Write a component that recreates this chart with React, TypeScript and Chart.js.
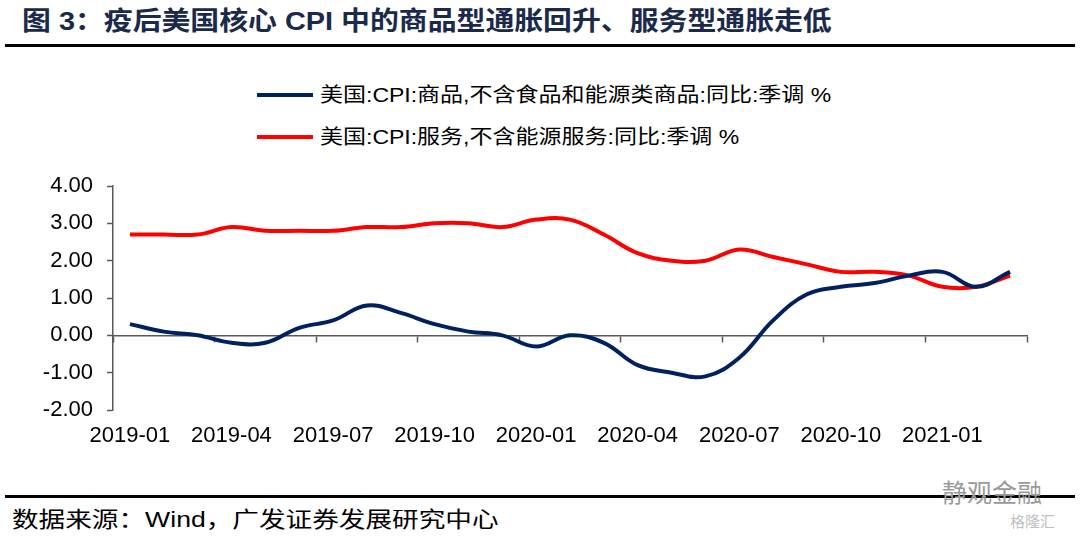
import React, { useEffect, useRef } from "react";
import { Chart, registerables } from "chart.js";

Chart.register(...registerables);

const months: string[] = [
  "2019-01", "2019-02", "2019-03", "2019-04", "2019-05", "2019-06",
  "2019-07", "2019-08", "2019-09", "2019-10", "2019-11", "2019-12",
  "2020-01", "2020-02", "2020-03", "2020-04", "2020-05", "2020-06",
  "2020-07", "2020-08", "2020-09", "2020-10", "2020-11", "2020-12",
  "2021-01", "2021-02", "2021-03",
];

const goodsCore: number[] = [
  0.3, 0.1, 0.0, -0.2, -0.2, 0.2,
  0.4, 0.8, 0.6, 0.3, 0.1, 0.0,
  -0.3, 0.0, -0.2, -0.8, -1.0, -1.1,
  -0.6, 0.4, 1.1, 1.3, 1.4, 1.6,
  1.7, 1.3, 1.7,
];

const servicesCore: number[] = [
  2.7, 2.7, 2.7, 2.9, 2.8, 2.8,
  2.8, 2.9, 2.9, 3.0, 3.0, 2.9,
  3.1, 3.1, 2.7, 2.2, 2.0, 2.0,
  2.3, 2.1, 1.9, 1.7, 1.7, 1.6,
  1.3, 1.3, 1.6,
];

const seriesNames: string[] = [
  "美国:CPI:商品,不含食品和能源类商品:同比:季调 %",
  "美国:CPI:服务,不含能源服务:同比:季调 %",
];
const seriesColors: string[] = ["#002060", "#FF0000"];

const yMin = -2;
const yMax = 4;
const yStep = 1;
const labelEvery = 3;

const titleText = "图 3：疫后美国核心 CPI 中的商品型通胀回升、服务型通胀走低";
const sourceText = "数据来源：Wind，广发证券发展研究中心";

const FONT = '"Liberation Sans", Arial, "Noto Sans CJK SC", sans-serif';
const AXIS_COLOR = "#595959";

function ChartCanvas() {
  const ref = useRef<HTMLCanvasElement | null>(null);
  useEffect(() => {
    if (!ref.current) return;
    const chart = new Chart(ref.current, {
      type: "line",
      data: {
        labels: months,
        datasets: [
          {
            label: seriesNames[0],
            data: goodsCore,
            borderColor: seriesColors[0],
            backgroundColor: seriesColors[0],
            borderWidth: 4,
            pointRadius: 0,
            tension: 0.4,
            xAxisID: "x",
            yAxisID: "y",
          },
          {
            label: seriesNames[1],
            data: servicesCore,
            borderColor: seriesColors[1],
            backgroundColor: seriesColors[1],
            borderWidth: 4,
            pointRadius: 0,
            tension: 0.4,
            xAxisID: "x",
            yAxisID: "y",
          },
        ],
      },
      options: {
        animation: false,
        responsive: true,
        maintainAspectRatio: false,
        layout: { padding: { top: 21, right: 53, left: 0, bottom: 0 } },
        plugins: {
          legend: { display: false },
          tooltip: { enabled: false },
        },
        scales: {
          x: {
            type: "category",
            position: "bottom",
            offset: true,
            grid: { display: false, drawTicks: false },
            border: { display: false },
            ticks: {
              autoSkip: false,
              maxRotation: 0,
              minRotation: 0,
              padding: 13,
              color: "#000",
              font: { family: FONT, size: 22 },
              callback: (_v: any, i: number) => (i % labelEvery === 0 ? months[i] : ""),
            },
            afterFit: (s: any) => {
              s.height = 50;
              s.paddingLeft = 0;
              s.paddingRight = 0;
            },
          },
          x2: {
            type: "category",
            axis: "x",
            position: { y: 0 },
            offset: true,
            grid: {
              display: true,
              offset: true,
              drawOnChartArea: false,
              drawTicks: true,
              tickLength: 6,
              tickWidth: 1.5,
              tickColor: (ctx: any) =>
                ctx.index === undefined || ctx.index % labelEvery === 0 ? AXIS_COLOR : "rgba(0,0,0,0)",
            },
            border: { display: true, color: AXIS_COLOR, width: 1.5 },
            ticks: { display: false },
          } as any,
          y: {
            type: "linear",
            min: yMin,
            max: yMax,
            ticks: {
              stepSize: yStep,
              padding: 14,
              color: "#000",
              font: { family: FONT, size: 22 },
              callback: (v: any) => Number(v).toFixed(2),
            },
            grid: {
              display: true,
              drawOnChartArea: false,
              drawTicks: true,
              tickLength: 6,
              tickWidth: 1.5,
              tickColor: AXIS_COLOR,
            },
            border: { display: true, color: AXIS_COLOR, width: 1.5 },
            afterFit: (s: any) => {
              s.width = 113;
              s.paddingTop = 0;
              s.paddingBottom = 0;
            },
          },
        },
      },
    } as any);
    return () => chart.destroy();
  }, []);
  return <canvas ref={ref} />;
}

export default function App() {
  const textBase: React.CSSProperties = {
    position: "absolute",
    whiteSpace: "nowrap",
    fontFamily: FONT,
    transformOrigin: "left center",
    lineHeight: 1,
  };
  return (
    <div
      style={{
        position: "absolute",
        left: 0,
        top: 0,
        width: 1080,
        height: 540,
        background: "#fff",
        overflow: "hidden",
      }}
    >
      <div
        style={{
          ...textBase,
          left: 22,
          top: 8,
          fontSize: 26,
          fontWeight: 700,
          color: "#1b2a4a",
          transform: "scaleX(1.11)",
        }}
      >
        {titleText}
      </div>
      <div style={{ position: "absolute", left: 5, top: 44, width: 1070, height: 3, background: "#000" }} />

      {seriesNames.map((name, i) => (
        <React.Fragment key={name}>
          <div
            style={{
              position: "absolute",
              left: 257,
              top: 93 + i * 42,
              width: 56,
              height: 4,
              background: seriesColors[i],
            }}
          />
          <div
            style={{
              ...textBase,
              left: 320,
              top: 85 + i * 42,
              fontSize: 20,
              color: "#000",
              transform: "scaleX(1.15)",
            }}
          >
            {name}
          </div>
        </React.Fragment>
      ))}

      <div style={{ position: "absolute", left: 0, top: 165, width: 1080, height: 295 }}>
        <ChartCanvas />
      </div>

      <div style={{ position: "absolute", left: 5, top: 495, width: 1070, height: 2.5, background: "#000" }} />
      <div
        style={{
          ...textBase,
          left: 12,
          top: 509,
          fontSize: 22,
          color: "#000",
          transform: "scaleX(1.21)",
        }}
      >
        {sourceText}
      </div>
      <div
        style={{
          ...textBase,
          left: 942,
          top: 481,
          fontSize: 25,
          color: "#9a9a9a",
        }}
      >
        静观金融
      </div>
      <div
        style={{
          ...textBase,
          left: 1010,
          top: 514,
          fontSize: 15,
          color: "#c0c0c0",
        }}
      >
        格隆汇
      </div>
    </div>
  );
}
